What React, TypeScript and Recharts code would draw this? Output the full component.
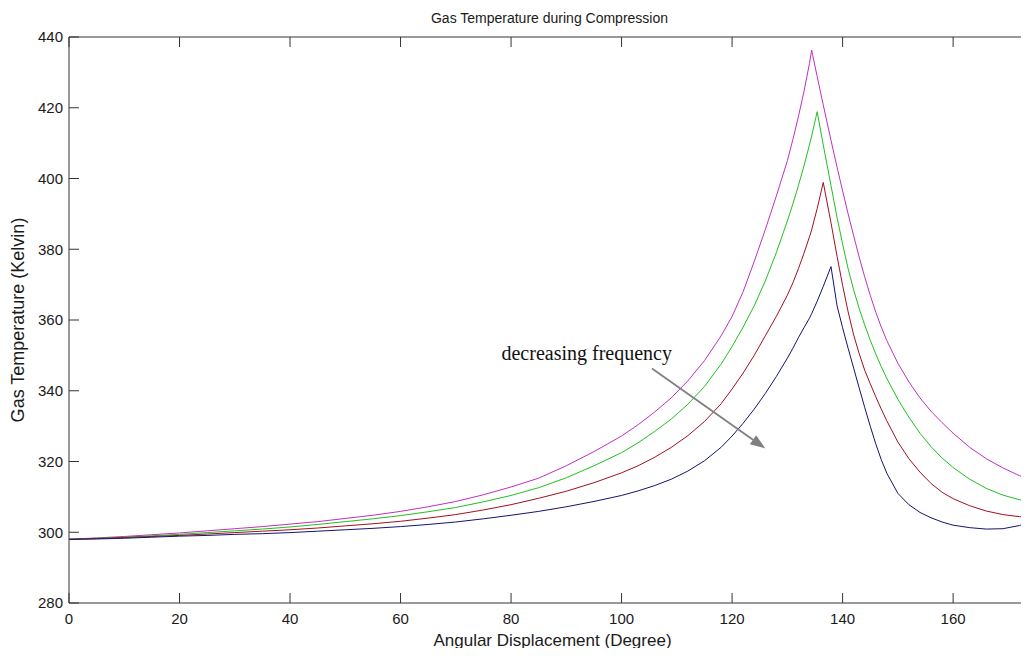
import React from 'react';
import { LineChart, Line, XAxis, YAxis, ReferenceLine, Customized, Label } from 'recharts';

// angular displacement (degree)
const angles = [
  0, 5, 10, 15, 20, 25, 30, 35, 40, 45, 50, 55, 60, 65, 70, 75, 80, 85, 90, 95,
  100, 103, 106, 109, 112, 115, 118, 120, 122, 124, 126, 128, 130, 131, 132, 133, 134, 134.4, 135.4, 136.5,
  137.9, 139, 140, 141, 142, 143, 144, 145, 146, 147, 148, 150, 152, 154, 156, 158, 160, 163, 166, 169,
  172, 175,
];

// gas temperature (K), highest frequency first
const tempMagenta = [
  298.0, 298.4, 298.8, 299.3, 299.8, 300.4, 301.0, 301.6, 302.3, 303.0, 303.9, 304.8, 305.9, 307.2, 308.7, 310.6, 312.8, 315.3, 318.8, 322.8,
  327.2, 330.4, 334.0, 338.0, 342.8, 348.5, 355.5, 361.0, 368.0, 376.5, 385.5, 395.0, 405.0, 411.0, 417.5, 424.5, 432.5, 436.3, 428.8, 420.8,
  410.8, 403.2, 396.5, 390.0, 383.8, 377.8, 372.2, 367.0, 362.2, 358.0, 354.2, 347.8, 342.5, 338.0, 334.2, 331.0, 328.0, 324.0, 320.8, 318.2,
  316.0, 314.3,
];
const tempGreen = [
  298.0, 298.3, 298.6, 299.0, 299.4, 299.9, 300.4, 300.9, 301.5, 302.2, 303.0, 303.8, 304.7, 305.8, 307.0, 308.6, 310.4, 312.6, 315.4, 318.8,
  322.5, 325.3, 328.5, 332.0, 336.2, 341.2, 347.5, 352.5, 358.0, 364.0, 371.0, 379.0, 388.0, 392.8, 398.0, 403.5, 409.5, 412.0, 418.9, 409.5,
  398.0, 389.0, 381.5, 374.5, 368.5, 363.3, 358.6, 354.3, 350.4, 346.8, 343.5, 337.6, 332.5, 328.0, 324.2, 321.0, 318.3, 315.0, 312.4, 310.5,
  309.2, 308.4,
];
const tempRed = [
  298.0, 298.2, 298.5, 298.8, 299.1, 299.5, 299.9, 300.3, 300.7, 301.2, 301.8, 302.4, 303.1, 304.0, 305.0, 306.3, 307.8, 309.6, 311.6, 314.0,
  316.8, 318.8, 321.2, 324.0, 327.3, 331.3, 336.3, 340.5, 345.0, 350.0, 355.5, 361.0, 367.0, 370.5, 374.5, 378.8, 383.5, 385.5, 391.5, 398.9,
  387.5, 378.0, 369.8, 362.3, 355.8, 350.5, 345.8, 342.0, 338.3, 334.8, 331.5, 325.5, 320.8, 317.0, 313.8, 311.3, 309.5, 307.5, 306.0, 305.0,
  304.4, 304.2,
];
const tempBlue = [
  298.0, 298.1, 298.3, 298.6, 298.9, 299.1, 299.4, 299.6, 299.9, 300.3, 300.7, 301.1, 301.6, 302.2, 302.9, 303.8, 304.8, 305.9, 307.2, 308.7,
  310.4, 311.7, 313.2, 315.0, 317.3, 320.2, 324.0, 327.2, 330.8, 334.8, 339.2, 344.0, 349.2, 352.0, 355.0, 357.8, 360.5, 361.8, 365.3, 369.5,
  375.1, 364.0, 357.8, 352.0, 346.4, 340.8, 335.3, 330.0, 325.0, 320.5, 316.7, 311.0, 307.8, 305.6, 304.1, 302.9, 302.0, 301.3, 300.9, 301.0,
  301.9, 303.3,
];

const xTicks = [0, 20, 40, 60, 80, 100, 120, 140, 160];
const yTicks = [280, 300, 320, 340, 360, 380, 400, 420, 440];
const xDomain = [0, 175];
const yDomain = [280, 440];

// annotation arrow, in data units
const arrowStart = { x: 105.5, y: 346.3 };
const arrowEnd = { x: 126, y: 323.7 };

const data = angles.map((a, i) => ({
  angle: a,
  magenta: tempMagenta[i],
  green: tempGreen[i],
  red: tempRed[i],
  blue: tempBlue[i],
}));

const W = 1040;
const H = 648;
const margin = { top: 29, right: 12, bottom: 8, left: 0 };
const yAxisWidth = 61;
const xAxisHeight = 45;
const plotTop = margin.top;
const plotBottom = H - margin.bottom - xAxisHeight;
const plotLeft = margin.left + yAxisWidth;
const plotRight = W - margin.right;
const tickLen = 10;

const sans = '"Liberation Sans", Arial, sans-serif';
const axisColor = '#333';
const textColor = '#1a1a1a';

// MATLAB-style ticks: pointing inward on both sides of the box
const XTick = (props: any) => {
  const { x, y, payload } = props;
  return (
    <g>
      <line x1={x} x2={x} y1={plotBottom} y2={plotBottom - tickLen} stroke={axisColor} />
      <line x1={x} x2={x} y1={plotTop} y2={plotTop + tickLen} stroke={axisColor} />
      <text x={x} y={y} dy="0.72em" textAnchor="middle" fontFamily={sans} fontSize={15} fill={textColor}>
        {payload.value}
      </text>
    </g>
  );
};

const YTick = (props: any) => {
  const { x, y, payload } = props;
  return (
    <g>
      <line x1={plotLeft} x2={plotLeft + tickLen} y1={y} y2={y} stroke={axisColor} />
      <line x1={plotRight} x2={plotRight - tickLen} y1={y} y2={y} stroke={axisColor} />
      <text x={x} y={y} dy="0.36em" textAnchor="end" fontFamily={sans} fontSize={15} fill={textColor}>
        {payload.value}
      </text>
    </g>
  );
};

const Arrow = (props: any) => {
  const { x1, y1, x2, y2 } = props;
  const ang = Math.atan2(y2 - y1, x2 - x1);
  const len = 15;
  const half = 5.5;
  const bx = x2 - len * Math.cos(ang);
  const by = y2 - len * Math.sin(ang);
  const px = -Math.sin(ang) * half;
  const py = Math.cos(ang) * half;
  return (
    <g>
      <line x1={x1} y1={y1} x2={bx} y2={by} stroke="#808080" strokeWidth={1.8} />
      <polygon points={`${x2},${y2} ${bx + px},${by + py} ${bx - px},${by - py}`} fill="#808080" />
      <text
        x={x1 + 20}
        y={y1 - 8}
        textAnchor="end"
        fontFamily='"Liberation Serif", "Times New Roman", serif'
        fontSize={20}
        fill="#111"
      >
        decreasing frequency
      </text>
    </g>
  );
};

const Title = () => (
  <text x={(plotLeft + plotRight) / 2 - 3} y={15} textAnchor="middle" fontFamily={sans} fontSize={14} fill={textColor}>
    Gas Temperature during Compression
  </text>
);

export default function App() {
  return (
    <div style={{ width: 1021, height: H, marginBottom: -8, overflow: 'hidden', background: '#fff' }}>
      <LineChart width={W} height={H} data={data} margin={margin}>
        <XAxis
          dataKey="angle"
          type="number"
          domain={xDomain}
          ticks={xTicks}
          interval={0}
          height={xAxisHeight}
          tickSize={0}
          tickMargin={10}
          tickLine={false}
          axisLine={{ stroke: axisColor }}
          tick={XTick}
          allowDataOverflow
        >
          <Label
            content={(p: any) => {
              const vb = p.viewBox;
              return (
                <text x={vb.x + vb.width / 2} y={vb.y + 43} textAnchor="middle" fontFamily={sans} fontSize={17} fill={textColor}>
                  Angular Displacement (Degree)
                </text>
              );
            }}
          />
        </XAxis>
        <YAxis
          type="number"
          domain={yDomain}
          ticks={yTicks}
          interval={0}
          width={yAxisWidth}
          tickSize={0}
          tickMargin={6}
          tickLine={false}
          axisLine={{ stroke: axisColor }}
          tick={YTick}
          allowDataOverflow
        >
          <Label
            content={(p: any) => {
              const vb = p.viewBox;
              const cx = vb.x + 16;
              const cy = vb.y + vb.height / 2;
              return (
                <text x={cx} y={cy} transform={`rotate(-90 ${cx} ${cy})`} textAnchor="middle" fontFamily={sans} fontSize={18} fill={textColor}>
                  Gas Temperature (Kelvin)
                </text>
              );
            }}
          />
        </YAxis>
        <ReferenceLine y={yDomain[1]} stroke={axisColor} />
        <ReferenceLine x={xDomain[1]} stroke={axisColor} />
        <Line dataKey="magenta" stroke="#c030c0" strokeWidth={1} dot={false} isAnimationActive={false} />
        <Line dataKey="green" stroke="#20c020" strokeWidth={1} dot={false} isAnimationActive={false} />
        <Line dataKey="red" stroke="#a01020" strokeWidth={1} dot={false} isAnimationActive={false} />
        <Line dataKey="blue" stroke="#141470" strokeWidth={1} dot={false} isAnimationActive={false} />
        <ReferenceLine segment={[arrowStart, arrowEnd]} shape={Arrow} ifOverflow="visible" />
        <Customized component={Title} />
      </LineChart>
    </div>
  );
}
